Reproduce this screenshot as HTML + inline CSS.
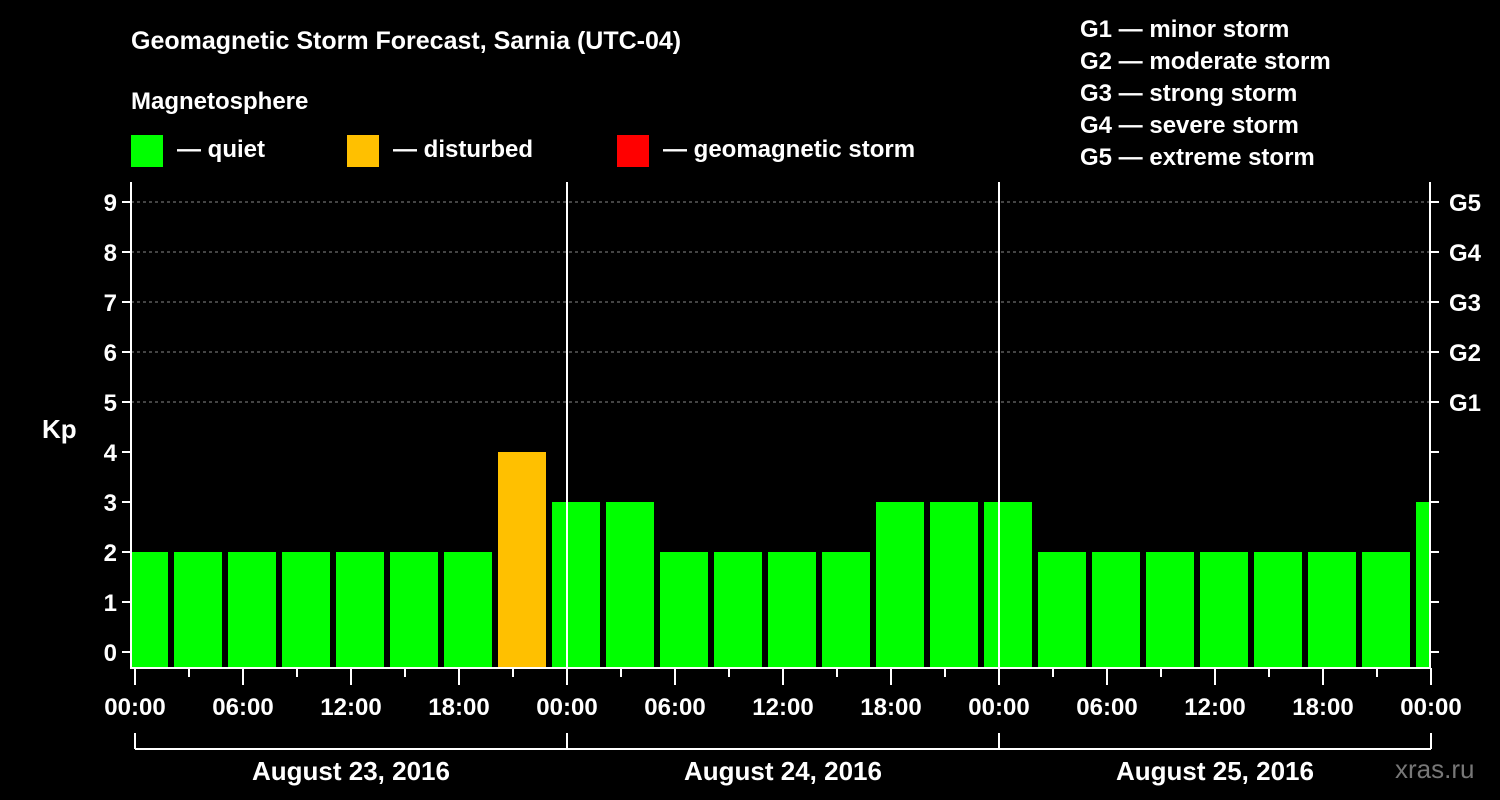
<!DOCTYPE html>
<html><head><meta charset="utf-8"><style>
body{margin:0;background:#000;}
svg{display:block;font-family:"Liberation Sans",sans-serif;font-weight:bold;}
</style></head><body>
<svg id="c" width="1500" height="800" viewBox="0 0 1500 800">
<rect width="1500" height="800" fill="#000"/>
<text x="131" y="49" fill="#fff" font-size="25">Geomagnetic Storm Forecast, Sarnia (UTC-04)</text>
<text x="131" y="109" fill="#fff" font-size="24">Magnetosphere</text>
<g><rect x="131" y="135" width="32" height="32" fill="#00ff00"/><text x="177" y="157" fill="#fff" font-size="24">— quiet</text></g>
<g><rect x="347" y="135" width="32" height="32" fill="#ffc000"/><text x="393" y="157" fill="#fff" font-size="24">— disturbed</text></g>
<g><rect x="617" y="135" width="32" height="32" fill="#ff0000"/><text x="663" y="157" fill="#fff" font-size="24">— geomagnetic storm</text></g>
<g fill="#fff" font-size="24">
<text x="1080" y="37">G1 — minor storm</text>
<text x="1080" y="69">G2 — moderate storm</text>
<text x="1080" y="101">G3 — strong storm</text>
<text x="1080" y="133">G4 — severe storm</text>
<text x="1080" y="165">G5 — extreme storm</text>
</g>
<text x="42" y="438" fill="#fff" font-size="26">Kp</text>
<text x="1395" y="778" fill="#777" font-size="26" font-weight="normal">xras.ru</text>
<g id="plot"></g>
</svg>
<script>
const kpValues=[2,2,2,2,2,2,2,4,3,3,2,2,2,2,3,3,3,2,2,2,2,2,2,2,3];
const startHour=-1;
const stepHours=3;
const yTicks=[0,1,2,3,4,5,6,7,8,9];
const gLabels=["G1","G2","G3","G4","G5"];
const gLevels=[5,6,7,8,9];
const timeLabels=["00:00","06:00","12:00","18:00"];
const dayLabels=["August 23, 2016","August 24, 2016","August 25, 2016"];

const NS="http://www.w3.org/2000/svg";
const L=131,R=1430,T=182,B=668;
const x0=135,pxPerHour=18;
const X=h=>x0+h*pxPerHour;
const Y=v=>652-v*50;
const g=document.getElementById('plot');
function mk(t,a,p){const e=document.createElementNS(NS,t);for(const k in a)e.setAttribute(k,a[k]);(p||g).appendChild(e);return e;}
const clip=mk('clipPath',{id:'pc'});
mk('rect',{x:L+1,y:T,width:R-L-1,height:B-T},clip);
// grid
gLevels.forEach((v,i)=>{
 const ln=mk('line',{x1:L,x2:R,y1:Y(v),y2:Y(v),stroke:'#888','stroke-dasharray':'3,3','stroke-width':1});
 
 
 const t=mk('text',{x:1449,y:Y(v)+9,fill:'#fff','font-size':24});
 t.textContent=gLabels[i];
 
 
});
// bars
const bg=mk('g',{'clip-path':'url(#pc)'});
kpValues.forEach((v,i)=>{
 const h=startHour+i*stepHours;
 const xs=X(h)+3,w=stepHours*pxPerHour-6;
 const col=v>=5?'#ff0000':(v>=4?'#ffc000':'#00ff00');
 const r=mk('rect',{x:xs,y:Y(v),width:w,height:B-Y(v),fill:col},bg);
 
 
});
// day separators
[1,2].forEach(d=>{mk('line',{x1:X(d*24),x2:X(d*24),y1:T,y2:B,stroke:'#fff','stroke-width':2});});
// frame
const fr=mk('path',{d:`M${L} ${T}V${B}H${R}V${T}`,stroke:'#fff','stroke-width':2,fill:'none'});


// y ticks
yTicks.forEach(v=>{
 mk('line',{x1:L-9,x2:L,y1:Y(v),y2:Y(v),stroke:'#fff','stroke-width':2});
 mk('line',{x1:R,x2:R+9,y1:Y(v),y2:Y(v),stroke:'#fff','stroke-width':2});
 const t=mk('text',{x:L-14,y:Y(v)+9,fill:'#fff','font-size':24,'text-anchor':'end'});
 t.textContent=v;
 
 
});
// x ticks
for(let h=0;h<=72;h+=3){
 const major=h%6===0;
 mk('line',{x1:X(h),x2:X(h),y1:B,y2:B+(major?17:9),stroke:'#fff','stroke-width':2});
 if(major){
  const t=mk('text',{x:X(h),y:715,fill:'#fff','font-size':24,'text-anchor':'middle'});
  t.textContent=timeLabels[(h/6)%4];
  
  
 }
}
// day bracket
mk('line',{x1:X(0),x2:X(72),y1:749,y2:749,stroke:'#fff','stroke-width':2});
for(let d=0;d<=3;d++)mk('line',{x1:X(d*24),x2:X(d*24),y1:733,y2:749,stroke:'#fff','stroke-width':2});
dayLabels.forEach((s,d)=>{
 const t=mk('text',{x:X(d*24+12),y:780,fill:'#fff','font-size':26,'text-anchor':'middle'});
 t.textContent=s;
 
 
});
</script>
</body></html>
